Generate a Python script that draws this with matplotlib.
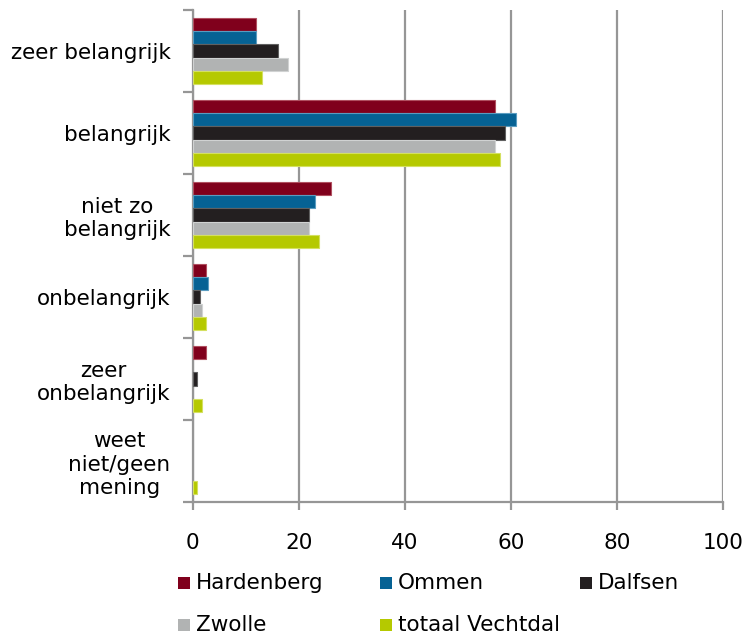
import numpy as np
import matplotlib.pyplot as plt
from matplotlib.patches import Rectangle

categories = ['zeer belangrijk', 'belangrijk', 'niet zo\nbelangrijk',
              'onbelangrijk', 'zeer\nonbelangrijk', 'weet\nniet/geen\nmening']
series = ['Hardenberg', 'Ommen', 'Dalfsen', 'Zwolle', 'totaal Vechtdal']
hardenberg = [12, 57, 26.1, 2.5, 2.5, 0]
ommen = [12, 61, 23.1, 2.8, 0, 0]
dalfsen = [16, 59, 22, 1.3, 0.9, 0]
zwolle = [18, 57, 22, 1.7, 0, 0]
vechtdal = [13, 58, 23.9, 2.5, 1.7, 0.9]
values = [hardenberg, ommen, dalfsen, zwolle, vechtdal]
colors = ['#80001c', '#066294', '#231f20', '#b1b3b3', '#b5c900']
edges = ['#b05060', '#5a9cc0', '#606060', '#d0d2d2', '#d4e060']

W, H = 747, 638
fig = plt.figure(figsize=(W / 100, H / 100), dpi=100)
ax = fig.add_axes([192.7 / W, 1 - 502 / H, 530 / W, 492 / H])

bar_h = 0.16
pos = np.arange(len(categories))
for i, vals in enumerate(values):
    lw = [0.8 if v > 0 else 0 for v in vals]
    ax.barh(pos - 0.4 + bar_h * (i + 0.5), vals, height=bar_h,
            color=colors[i], edgecolor=edges[i], linewidth=lw, zorder=3)

ax.set_xlim(0, 100)
ax.set_ylim(len(categories) - 0.5, -0.5)
ax.set_xticks(np.arange(0, 101, 20))
ax.set_yticks(pos)
ax.set_yticklabels(categories, multialignment='center')
ax.set_yticks(np.arange(-0.5, len(categories)), minor=True)

grey = '#969696'
ax.grid(axis='x', color=grey, linewidth=1.6, zorder=0)
ax.set_axisbelow(True)
for s in ['top', 'right']:
    ax.spines[s].set_visible(False)
for s in ['left', 'bottom']:
    ax.spines[s].set_color(grey)
    ax.spines[s].set_linewidth(1.6)

fs = 15.5
ax.tick_params(axis='y', which='major', length=0, pad=16, labelsize=fs)
ax.tick_params(axis='y', which='minor', length=7, width=1.6, color=grey)
ax.tick_params(axis='x', length=6, width=1.6, color=grey, pad=16, labelsize=fs)

# legend laid out in a 3-column grid, row by row
legend_x = [178, 380, 580]
legend_y = [583, 625]
for i, name in enumerate(series):
    x = legend_x[i % 3]
    y = legend_y[i // 3]
    fig.add_artist(Rectangle((x / W, 1 - (y + 6) / H), 12 / W, 12 / H,
                             transform=fig.transFigure,
                             facecolor=colors[i], edgecolor='none'))
    fig.text((x + 18) / W, 1 - y / H, name, fontsize=fs, va='center', ha='left')

plt.savefig('out.png')
